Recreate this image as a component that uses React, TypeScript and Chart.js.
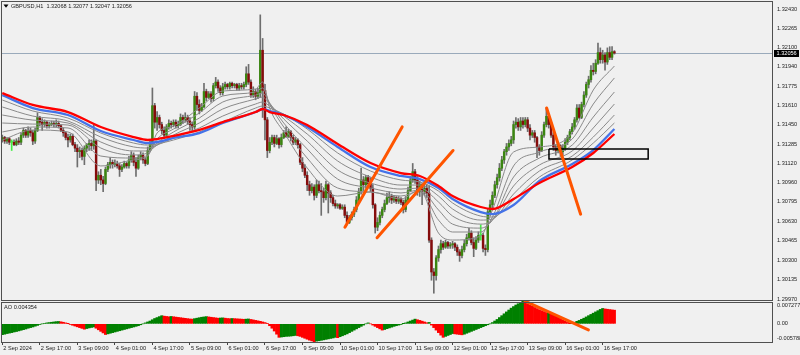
import React, { useEffect, useRef } from "react";
import { Chart, registerables } from "chart.js";

Chart.register(...registerables);

// ---------------- data ----------------
const symbolName = "GBPUSD,H1";
const lastBarOHLC = [1.32068, 1.32077, 1.32047, 1.32056];
const aoTitle = "AO 0.004354";

const timeTickIdx = [0, 16, 32, 48, 64, 80, 96, 112, 128, 144, 160, 176, 192, 208, 224, 240, 256];
const timeLabels = [
  "2 Sep 2024", "2 Sep 17:00", "3 Sep 09:00", "4 Sep 01:00", "4 Sep 17:00", "5 Sep 09:00",
  "6 Sep 01:00", "6 Sep 17:00", "9 Sep 09:00", "10 Sep 01:00", "10 Sep 17:00", "11 Sep 09:00",
  "12 Sep 01:00", "12 Sep 17:00", "13 Sep 09:00", "16 Sep 01:00", "16 Sep 17:00",
];

const priceTicks = [
  1.2997, 1.30135, 1.303, 1.30465, 1.3063, 1.30795, 1.3096, 1.3112,
  1.31285, 1.3145, 1.3161, 1.31775, 1.3194, 1.321, 1.32265, 1.3243,
];
const priceMin = 1.29954;
const priceMax = 1.32489;

const aoMin = -0.005788;
const aoMax = 0.007277;
const aoTickLabels = ["-0.005788", "0.00", "0.007277"];

const firstOpen = 1.3132;

const closes = [
  1.3134, 1.3131, 1.3133, 1.313, 1.313, 1.3128, 1.3131, 1.313, 1.3136, 1.314,
  1.3136, 1.314, 1.3138, 1.3131, 1.314, 1.3151, 1.3147, 1.3145, 1.3147, 1.3144,
  1.3145, 1.3146, 1.3145, 1.3146, 1.3144, 1.314, 1.3138, 1.3134, 1.3132, 1.3135,
  1.3128, 1.3125, 1.3122, 1.3123, 1.3118, 1.3125, 1.3128, 1.3129, 1.3127, 1.3131,
  1.3098, 1.3102, 1.3098, 1.3095, 1.3107, 1.3111, 1.3113, 1.3111, 1.3112, 1.311,
  1.3107, 1.3109, 1.3112, 1.311, 1.3115, 1.3119, 1.3113, 1.3108, 1.3117, 1.3119,
  1.3115, 1.3112, 1.3123, 1.3128, 1.3161, 1.3147, 1.3151, 1.3145, 1.314, 1.3136,
  1.3143, 1.3146, 1.3145, 1.3147, 1.3144, 1.3145, 1.3151, 1.3149, 1.3151, 1.3148,
  1.3145, 1.3143, 1.3169, 1.3162, 1.3157, 1.316, 1.3173, 1.3168, 1.3171, 1.3167,
  1.3178, 1.3181, 1.3176, 1.3172, 1.3177, 1.3179, 1.3177, 1.318, 1.3178, 1.3179,
  1.3176, 1.3178, 1.3177, 1.3179, 1.3188, 1.3181, 1.317, 1.3173, 1.3169, 1.3172,
  1.3208, 1.3174, 1.3149, 1.3123, 1.313, 1.3134, 1.3129, 1.3133, 1.3128, 1.3134,
  1.3138, 1.3135, 1.3139, 1.3134, 1.313, 1.3132, 1.3128, 1.3113, 1.3108, 1.3102,
  1.3094, 1.3089, 1.3092, 1.3085, 1.3094, 1.3089, 1.3088, 1.3083, 1.3094, 1.3087,
  1.3083, 1.3078, 1.3076, 1.3077, 1.3074, 1.3075, 1.3068, 1.3062, 1.3066, 1.3069,
  1.3073, 1.3081, 1.3088, 1.3098, 1.3094, 1.31, 1.3095, 1.3091, 1.3077, 1.3058,
  1.3062, 1.3068, 1.3073, 1.3078, 1.3083, 1.3084, 1.3081, 1.3083, 1.308, 1.3082,
  1.3079, 1.3073, 1.3081, 1.3089, 1.3098, 1.3105, 1.3098, 1.3088, 1.3094, 1.3088,
  1.3091, 1.3087, 1.3047, 1.302, 1.3017, 1.3032, 1.3039, 1.3044, 1.3041, 1.3045,
  1.3042, 1.3043, 1.3044, 1.3041, 1.3037, 1.3034, 1.3039, 1.3044, 1.3049, 1.3053,
  1.3045, 1.304, 1.3047, 1.3051, 1.3051, 1.304, 1.3039, 1.3071, 1.3077, 1.3085,
  1.3094, 1.31, 1.3108, 1.3115, 1.3122, 1.3126, 1.3129, 1.3132, 1.3145, 1.3147,
  1.3143, 1.3148, 1.3145, 1.3149, 1.3142, 1.3136, 1.3138, 1.3134, 1.3126, 1.3123,
  1.3136, 1.3145, 1.3152, 1.3145, 1.3136, 1.3126, 1.3123, 1.3127, 1.3122, 1.3125,
  1.313, 1.3134, 1.3139, 1.3143, 1.3149, 1.3159, 1.3151, 1.3162, 1.317, 1.3179,
  1.3183, 1.3191, 1.319, 1.3197, 1.3206, 1.32, 1.3204, 1.3198, 1.3206, 1.3202,
  1.32068, 1.32056,
];

const highs = [
  1.3136, 1.3135, 1.3134, 1.3134, 1.3132, 1.3132, 1.3133, 1.3134, 1.3138, 1.3142,
  1.3141, 1.3143, 1.3142, 1.314, 1.3142, 1.3155, 1.3152, 1.315, 1.3149, 1.3148,
  1.3147, 1.3148, 1.3148, 1.3149, 1.3148, 1.3145, 1.3142, 1.3139, 1.3137, 1.3137,
  1.3137, 1.313, 1.3128, 1.3126, 1.3125, 1.3127, 1.3129, 1.3132, 1.3132, 1.3145,
  1.3132, 1.3105, 1.3107, 1.3101, 1.3109, 1.3113, 1.3117, 1.3115, 1.3115, 1.3114,
  1.3112, 1.3111, 1.3114, 1.3113, 1.3118, 1.3122, 1.3121, 1.3117, 1.3119, 1.3122,
  1.3121, 1.3117, 1.3126, 1.3132, 1.3176, 1.3163, 1.3156, 1.3153, 1.3147, 1.3143,
  1.3145, 1.3149, 1.3148, 1.3149, 1.3149, 1.3148, 1.3154, 1.3153, 1.3155, 1.3153,
  1.3151, 1.3147, 1.3173, 1.3172, 1.3166, 1.3163, 1.318, 1.3175, 1.3173, 1.3173,
  1.318, 1.3185, 1.3183, 1.3178, 1.318, 1.3181, 1.318, 1.3181, 1.3181, 1.318,
  1.318, 1.318, 1.318, 1.3181, 1.3194, 1.3196, 1.3183, 1.3177, 1.3175, 1.3176,
  1.3238, 1.3218, 1.3179, 1.3151, 1.3134, 1.3136, 1.3136, 1.3136, 1.3134, 1.3137,
  1.314, 1.3143, 1.3141, 1.314, 1.3136, 1.3134, 1.3133, 1.3129, 1.3117, 1.3111,
  1.3105, 1.3097, 1.3095, 1.3094, 1.3098, 1.3097, 1.3095, 1.3091, 1.3097, 1.3095,
  1.3089, 1.3085, 1.3081, 1.3078, 1.3078, 1.3077, 1.3077, 1.3071, 1.3068, 1.3071,
  1.3075, 1.3084, 1.3091, 1.3108, 1.3101, 1.3102, 1.3102, 1.31, 1.3094, 1.3078,
  1.3066, 1.3071, 1.3075, 1.3081, 1.3087, 1.3088, 1.3086, 1.3085, 1.3084, 1.3084,
  1.3083, 1.3081, 1.3084, 1.3092, 1.3101, 1.3112, 1.3107, 1.3101, 1.3097, 1.3095,
  1.3095, 1.3094, 1.3093, 1.3049, 1.3023, 1.3034, 1.3042, 1.3047, 1.3046, 1.3047,
  1.3046, 1.3045, 1.3046, 1.3045, 1.3043, 1.3039, 1.3042, 1.3047, 1.3052, 1.3057,
  1.3055, 1.3049, 1.305, 1.3054, 1.306, 1.3053, 1.3043, 1.3074, 1.3081, 1.3088,
  1.3097, 1.3103, 1.3112, 1.3118, 1.3124, 1.3129, 1.3132, 1.3135, 1.3148, 1.3151,
  1.315, 1.3151, 1.3151, 1.3151, 1.3151, 1.3145, 1.314, 1.314, 1.3135, 1.3128,
  1.3139, 1.3147, 1.3159, 1.3154, 1.3147, 1.3138, 1.3128, 1.3129, 1.3128, 1.3128,
  1.3133, 1.3136, 1.3141, 1.3146, 1.3151, 1.3162, 1.3162, 1.3164, 1.3173, 1.3181,
  1.3186, 1.3195, 1.3197, 1.32, 1.3214, 1.321, 1.3208, 1.3206, 1.321, 1.3211,
  1.3211, 1.32077,
];

const lows = [
  1.313, 1.3129, 1.3129, 1.3128, 1.3123, 1.3127, 1.3127, 1.3128, 1.3128, 1.3134,
  1.3134, 1.3134, 1.3135, 1.3128, 1.3129, 1.3139, 1.3144, 1.314, 1.3143, 1.3142,
  1.3142, 1.3144, 1.3143, 1.3143, 1.3142, 1.3139, 1.3135, 1.3132, 1.3126, 1.313,
  1.3127, 1.3122, 1.3109, 1.3117, 1.3115, 1.3111, 1.3122, 1.3123, 1.3123, 1.3124,
  1.3089, 1.3095, 1.3094, 1.3088, 1.3094, 1.3105, 1.3108, 1.3108, 1.3109, 1.3108,
  1.3101, 1.3105, 1.3108, 1.3108, 1.3108, 1.3113, 1.311, 1.3101, 1.3107, 1.3115,
  1.3112, 1.311, 1.3111, 1.3122, 1.3126, 1.3142, 1.314, 1.3142, 1.3137, 1.3134,
  1.3134, 1.3141, 1.3142, 1.3143, 1.3142, 1.3142, 1.3144, 1.3146, 1.3147, 1.3145,
  1.314, 1.3139, 1.3141, 1.3157, 1.3154, 1.3156, 1.3159, 1.3165, 1.3167, 1.3164,
  1.3165, 1.3176, 1.3173, 1.317, 1.317, 1.3175, 1.3175, 1.3175, 1.3176, 1.3176,
  1.3174, 1.3174, 1.3175, 1.3175, 1.3177, 1.3179, 1.3168, 1.3168, 1.3166, 1.3167,
  1.3168, 1.3151, 1.3132, 1.3117, 1.3121, 1.3128, 1.3126, 1.3128, 1.3125, 1.3126,
  1.3133, 1.3134, 1.3134, 1.3131, 1.3128, 1.3128, 1.3125, 1.3111, 1.3105, 1.31,
  1.3089, 1.3085, 1.3087, 1.3081, 1.3083, 1.3087, 1.3068, 1.3079, 1.3081, 1.307,
  1.3079, 1.3076, 1.3074, 1.3074, 1.3073, 1.3073, 1.3066, 1.306, 1.3061, 1.3064,
  1.3067, 1.3071, 1.3079, 1.3086, 1.3089, 1.3091, 1.3093, 1.3088, 1.3074, 1.3053,
  1.3055, 1.306, 1.3066, 1.3071, 1.3077, 1.3079, 1.3078, 1.3079, 1.3078, 1.3078,
  1.3077, 1.307, 1.3071, 1.3079, 1.3088, 1.3096, 1.3095, 1.3085, 1.3084, 1.3077,
  1.3085, 1.3083, 1.3045, 1.3013, 1.3002, 1.3013, 1.3029, 1.3036, 1.3039, 1.304,
  1.304, 1.304, 1.304, 1.3038, 1.3034, 1.3029, 1.3032, 1.3037, 1.3042, 1.3047,
  1.3043, 1.3033, 1.3039, 1.3045, 1.3047, 1.3037, 1.3034, 1.3037, 1.3068, 1.3074,
  1.3083, 1.3091, 1.3097, 1.3106, 1.3112, 1.3119, 1.3123, 1.3127, 1.3129, 1.3142,
  1.314, 1.314, 1.3142, 1.3143, 1.3139, 1.3132, 1.3134, 1.313, 1.3117, 1.3119,
  1.3122, 1.3134, 1.3143, 1.3142, 1.3134, 1.3123, 1.3119, 1.3121, 1.3118, 1.3119,
  1.3123, 1.3128, 1.3132, 1.3137, 1.3141, 1.3147, 1.315, 1.315, 1.316, 1.3168,
  1.3176, 1.3181, 1.3187, 1.3188, 1.3196, 1.3197, 1.3197, 1.3191, 1.3196, 1.32,
  1.32, 1.32047,
];

const aoValues = [
  -0.00345, -0.0033, -0.0031, -0.00295, -0.0028, -0.0026, -0.00245, -0.00225, -0.00205, -0.00185,
  -0.00165, -0.0014, -0.0012, -0.001, -0.00075, -0.0005, -0.0002, 0, 0.00015, 0.0003,
  0.0004, 0.0005, 0.0006, 0.0007, 0.00075, 0.00065, 0.0005, 0.0003, 0.00005, -0.0002,
  -0.00045, -0.0007, -0.00095, -0.0012, -0.00145, -0.0017, -0.0015, -0.0013, -0.00115, -0.001,
  -0.0014, -0.0019, -0.0024, -0.0029, -0.0034, -0.0032, -0.003, -0.0028, -0.0026, -0.0024,
  -0.0022, -0.002, -0.0018, -0.0016, -0.0014, -0.0012, -0.001, -0.0008, -0.0006, -0.0003,
  0, 0.0003, 0.0006, 0.0009, 0.0013, 0.0017, 0.002, 0.0023, 0.0026, 0.00245,
  0.00235, 0.00225, 0.00235, 0.00225, 0.00215, 0.00205, 0.00195, 0.00185, 0.00175, 0.00165,
  0.00155, 0.0015, 0.00165, 0.0018, 0.00195, 0.0021, 0.0022, 0.0023, 0.0022, 0.0021,
  0.002, 0.0019, 0.0018, 0.00185, 0.0019, 0.0018, 0.0017, 0.00165, 0.0017, 0.00165,
  0.0016, 0.00155, 0.0015, 0.00145, 0.0015, 0.00155, 0.0014, 0.00125, 0.0011, 0.00095,
  0.0008, 0.0006, 0.0004, 0.0001, -0.0006, -0.0014, -0.0023, -0.0033, -0.0043, -0.0042,
  -0.0041, -0.004, -0.00395, -0.0039, -0.0038, -0.0037, -0.0038, -0.004, -0.0043, -0.0046,
  -0.0049, -0.0052, -0.00545, -0.005788, -0.0055, -0.0054, -0.00525, -0.0051, -0.00495, -0.0048,
  -0.00465, -0.0045, -0.0043, -0.0044, -0.0041, -0.0038, -0.0035, -0.0032, -0.0028, -0.0024,
  -0.002, -0.0016, -0.0012, -0.0008, -0.0004, 0, 0.0003, 0, -0.0004, -0.0008,
  -0.0012, -0.0016, -0.002, -0.0018, -0.00155, -0.0013, -0.00105, -0.0008, -0.0006, -0.0004,
  -0.0002, 0.00005, 0.0003, 0.0006, 0.0009, 0.0012, 0.0015, 0.0013, 0.0011, 0.00085,
  0.0006, 0.00035, 0.00045, -0.0004, -0.0012, -0.002, -0.0028, -0.0036, -0.0043, -0.004,
  -0.0037, -0.0034, -0.0031, -0.0032, -0.0033, -0.0034, -0.0035, -0.0033, -0.003, -0.0027,
  -0.0024, -0.0021, -0.0018, -0.0015, -0.0012, -0.0009, -0.0006, -0.0003, 0, 0.0004,
  0.0009, 0.0014, 0.002, 0.0026, 0.0032, 0.0038, 0.0044, 0.005, 0.0055, 0.006,
  0.0064, 0.0068, 0.007277, 0.0068, 0.0064, 0.006, 0.0056, 0.0052, 0.00485, 0.0045,
  0.0042, 0.0039, 0.0036, 0.0037, 0.0033, 0.0029, 0.0025, 0.0021, 0.0017, 0.0013,
  0.0009, 0.00045, 0.00005, 0.0002, 0.0005, 0.0008, 0.0011, 0.00145, 0.0018, 0.0022,
  0.0026, 0.003, 0.0034, 0.0038, 0.0042, 0.0046, 0.0049, 0.00475, 0.00465, 0.00455,
  0.00445, 0.004354,
];

// moving-average lines at these bar positions
const maIdx = [0, 13, 28, 42, 56, 62, 66, 73, 84, 94, 108, 111, 114, 120, 130, 143, 157, 170, 178, 186, 192, 204, 209, 218, 229, 243, 252, 261];
const maRed = [1.31717, 1.31616, 1.31556, 1.31429, 1.31344, 1.31319, 1.31327, 1.31353, 1.31404, 1.31471, 1.31556, 1.31582, 1.31556, 1.31531, 1.31446, 1.31285, 1.31124, 1.31039, 1.31014, 1.30929, 1.30844, 1.30751, 1.30734, 1.30819, 1.30954, 1.3109, 1.31209, 1.3137];
const maBlue = [1.317, 1.3159, 1.31531, 1.31395, 1.31319, 1.31293, 1.31302, 1.31336, 1.31378, 1.31463, 1.31556, 1.31582, 1.31565, 1.31531, 1.31429, 1.3126, 1.3109, 1.31014, 1.30988, 1.30912, 1.30819, 1.30708, 1.30691, 1.30768, 1.30971, 1.31115, 1.31234, 1.31412];
const maGray1 = [1.31658, 1.31565, 1.31505, 1.31378, 1.31293, 1.31276, 1.31285, 1.31319, 1.31387, 1.31471, 1.3159, 1.31607, 1.3159, 1.31539, 1.31412, 1.31209, 1.31056, 1.3098, 1.30963, 1.30886, 1.30785, 1.30674, 1.30666, 1.3081, 1.31005, 1.3115, 1.31293, 1.31463];
const maGray2 = [1.31599, 1.31522, 1.3148, 1.31344, 1.3126, 1.31251, 1.31276, 1.31336, 1.31421, 1.31522, 1.31624, 1.31641, 1.31607, 1.31522, 1.3137, 1.31141, 1.31005, 1.30937, 1.30937, 1.30844, 1.30734, 1.3064, 1.30649, 1.30861, 1.31056, 1.31183, 1.31344, 1.31531];
const maGray3 = [1.31531, 1.31488, 1.31463, 1.31302, 1.31226, 1.31226, 1.31276, 1.31361, 1.31463, 1.31582, 1.31667, 1.31683, 1.31624, 1.31497, 1.3131, 1.31065, 1.30954, 1.30903, 1.30912, 1.30793, 1.30674, 1.30606, 1.3064, 1.30929, 1.31107, 1.31226, 1.31421, 1.31624];
const maGray4 = [1.31463, 1.31454, 1.31446, 1.31251, 1.31192, 1.31209, 1.31293, 1.31387, 1.31505, 1.31641, 1.317, 1.31717, 1.31633, 1.31463, 1.31243, 1.30988, 1.30912, 1.3087, 1.30895, 1.30726, 1.30606, 1.30572, 1.3064, 1.31005, 1.31166, 1.31276, 1.31514, 1.31726];
const maGray5 = [1.31387, 1.31429, 1.31421, 1.31183, 1.31166, 1.31192, 1.31327, 1.31412, 1.31548, 1.31692, 1.31726, 1.3176, 1.31624, 1.31429, 1.31166, 1.30912, 1.30878, 1.30844, 1.30886, 1.3064, 1.30539, 1.30539, 1.30666, 1.31099, 1.31217, 1.31327, 1.31624, 1.31845];
const maGray6 = [1.31319, 1.31404, 1.31387, 1.31099, 1.3115, 1.31183, 1.31378, 1.31437, 1.3159, 1.31734, 1.31751, 1.31811, 1.3159, 1.31387, 1.31082, 1.30844, 1.30878, 1.30819, 1.30895, 1.3053, 1.30471, 1.30505, 1.30726, 1.31217, 1.3126, 1.31378, 1.31743, 1.31946];

// hand-drawn annotations (bar position, price)
const trendIdx = [[146.1, 170.5], [159.8, 192.2], [232.1, 246.6]];
const trendPrice = [[1.3058, 1.3143], [1.3049, 1.3123], [1.3159, 1.3069]];
const aoTrendIdx = [222.9, 249.9];
const aoTrendVal = [0.00722, -0.00196];
const boxIdx = [233.1, 275.4];
const boxPrice = [1.31243, 1.31158];

// ---------------- style ----------------
const BG = "#F0F0F0";
const BORDER = "#505050";
const TEXT = "#1c1c1c";
const UP = "#3A8610";
const DOWN = "#850C0C";
const DOJI = "#44EE44";
const WICK = "#6E6E6E";
const GRAY_MA = "#8A8A8A";
const RED_MA = "#FF0000";
const BLUE_MA = "#4472E8";
const ORANGE = "#FF5500";
const AO_UP = "#008000";
const AO_DOWN = "#FF0000";
const PRICE_LINE = "#9AAABB";
const FONT_FAMILY = "'Liberation Sans', Arial, sans-serif";
const FONT_SIZE = 5.6;
const CANVAS_FONT = `${FONT_SIZE}px ${FONT_FAMILY}`;

const xMin = -0.13;
const xMax = 328.2;

const chromePlugin = {
  id: "mtChrome",
  beforeDraw(chart: any) {
    const { ctx, width, height } = chart;
    ctx.save();
    ctx.fillStyle = BG;
    ctx.fillRect(0, 0, width, height);
    ctx.restore();
  },
  beforeDatasetsDraw(chart: any) {
    const { ctx, chartArea } = chart;
    const ys = chart.scales.y;
    const py = Math.round(ys.getPixelForValue(lastBarOHLC[3])) + 0.5;
    ctx.save();
    ctx.strokeStyle = PRICE_LINE;
    ctx.lineWidth = 1;
    ctx.beginPath();
    ctx.moveTo(chartArea.left, py);
    ctx.lineTo(chartArea.right, py);
    ctx.stroke();
    ctx.restore();
  },
  afterDraw(chart: any) {
    const { ctx, chartArea } = chart;
    const ys = chart.scales.y;
    const ya = chart.scales.yAO;
    ctx.save();
    ctx.strokeStyle = BORDER;
    ctx.lineWidth = 1;
    const l = chartArea.left - 0.5;
    const r = chartArea.right + 0.5;
    ctx.strokeRect(l, ys.top - 0.5, r - l, ys.bottom - ys.top);
    ctx.strokeRect(l, ya.top + 1.5, r - l, ya.bottom - ya.top - 1);

    // current price tag
    const py = Math.round(ys.getPixelForValue(lastBarOHLC[3]));
    ctx.fillStyle = "#000000";
    ctx.fillRect(chartArea.right + 2, py - 3, 25, 7);
    ctx.fillStyle = "#FFFFFF";
    ctx.font = CANVAS_FONT;
    ctx.textBaseline = "middle";
    ctx.textAlign = "left";
    ctx.fillText(lastBarOHLC[3].toFixed(5), chartArea.right + 4.5, py + 0.7);

    // title
    ctx.fillStyle = "#000000";
    ctx.beginPath();
    ctx.moveTo(3.5, 4.5);
    ctx.lineTo(8.5, 4.5);
    ctx.lineTo(6, 7.8);
    ctx.closePath();
    ctx.fill();
    ctx.fillStyle = TEXT;
    ctx.fillText(`${symbolName}  ${lastBarOHLC.map((v) => v.toFixed(5)).join(" ")}`, 11, 6.5);
    ctx.fillText(aoTitle, 4, ya.top + 6);
    ctx.restore();
  },
};

const zeroPad = (s: any) => {
  s.paddingTop = 0;
  s.paddingBottom = 0;
  s.paddingLeft = 0;
  s.paddingRight = 0;
};

function buildConfig(): any {
  const idx = closes.map((_, i) => i);
  const opens = idx.map((i) => (i === 0 ? firstOpen : closes[i - 1]));
  const wickData = idx.map((i) => ({ x: i, y: [lows[i], highs[i]] }));
  const bodyData = idx.map((i) => ({ x: i, y: [opens[i], closes[i]] }));
  const bodyColors = idx.map((i) => (closes[i] > opens[i] ? UP : closes[i] < opens[i] ? DOWN : DOJI));
  const wickColors = idx.map((i) => (closes[i] === opens[i] ? DOJI : WICK));
  const aoData = idx.map((i) => ({ x: i, y: aoValues[i] }));
  const aoColors = idx.map((i) => (i === 0 || aoValues[i] >= aoValues[i - 1] ? AO_UP : AO_DOWN));

  const maLine = (vals: number[], color: string, width: number, order: number) => ({
    type: "line",
    data: maIdx.map((x, k) => ({ x, y: vals[k] })),
    borderColor: color,
    borderWidth: width,
    pointRadius: 0,
    fill: false,
    cubicInterpolationMode: "monotone",
    yAxisID: "y",
    order,
    clip: 0,
  });

  const trendSets = trendIdx.map((xs, k) => ({
    type: "line",
    data: xs.map((x, j) => ({ x, y: trendPrice[k][j] })),
    borderColor: ORANGE,
    borderWidth: 3,
    borderCapStyle: "round",
    pointRadius: 0,
    fill: false,
    yAxisID: "y",
    order: 0,
  }));

  const tickFont = { family: FONT_FAMILY, size: FONT_SIZE };

  return {
    type: "bar",
    data: {
      datasets: [
        ...trendSets,
        {
          type: "line",
          data: [
            { x: boxIdx[0], y: boxPrice[0] },
            { x: boxIdx[1], y: boxPrice[0] },
            { x: boxIdx[1], y: boxPrice[1] },
            { x: boxIdx[0], y: boxPrice[1] },
            { x: boxIdx[0], y: boxPrice[0] },
          ],
          borderColor: "#000000",
          borderWidth: 1.5,
          pointRadius: 0,
          fill: false,
          yAxisID: "y",
          order: 0,
        },
        {
          type: "line",
          data: aoTrendIdx.map((x, j) => ({ x, y: aoTrendVal[j] })),
          borderColor: ORANGE,
          borderWidth: 3,
          borderCapStyle: "round",
          pointRadius: 0,
          fill: false,
          yAxisID: "yAO",
          order: 0,
        },
        maLine(maRed, RED_MA, 2.3, 1),
        maLine(maBlue, BLUE_MA, 2.3, 2),
        maLine(maGray1, GRAY_MA, 1, 3),
        maLine(maGray2, GRAY_MA, 1, 3),
        maLine(maGray3, GRAY_MA, 1, 3),
        maLine(maGray4, GRAY_MA, 1, 3),
        maLine(maGray5, GRAY_MA, 1, 3),
        maLine(maGray6, GRAY_MA, 1, 3),
        {
          type: "bar",
          data: bodyData,
          backgroundColor: bodyColors,
          barThickness: 1.8,
          minBarLength: 1,
          grouped: false,
          borderWidth: 0,
          yAxisID: "y",
          order: 4,
        },
        {
          type: "bar",
          data: wickData,
          backgroundColor: wickColors,
          barThickness: 1,
          grouped: false,
          borderWidth: 0,
          yAxisID: "y",
          order: 5,
        },
        {
          type: "bar",
          data: aoData,
          backgroundColor: aoColors,
          barPercentage: 1,
          categoryPercentage: 1,
          grouped: false,
          borderWidth: 0,
          yAxisID: "yAO",
          order: 6,
        },
      ],
    },
    options: {
      responsive: false,
      maintainAspectRatio: false,
      devicePixelRatio: 1,
      animation: false,
      events: [],
      layout: { padding: { top: 2, left: 2, right: 0, bottom: 0 } },
      plugins: {
        legend: { display: false },
        tooltip: { enabled: false },
        title: { display: false },
      },
      scales: {
        x: {
          type: "linear",
          min: xMin,
          max: xMax,
          offset: false,
          afterBuildTicks: (s: any) => {
            s.ticks = timeTickIdx.map((v) => ({ value: v }));
          },
          afterFit: (s: any) => {
            s.height = 13;
            zeroPad(s);
          },
          ticks: {
            autoSkip: false,
            maxRotation: 0,
            minRotation: 0,
            align: "start",
            padding: 0,
            labelOffset: 1,
            color: TEXT,
            font: tickFont,
            callback: (v: number) => {
              const k = timeTickIdx.indexOf(v);
              return k >= 0 ? timeLabels[k] : "";
            },
          },
          grid: { display: true, drawOnChartArea: false, drawTicks: true, tickLength: 3, color: "#444444", offset: false },
          border: { display: false },
        },
        y: {
          type: "linear",
          position: "right",
          stack: "panes",
          stackWeight: 299,
          min: priceMin,
          max: priceMax,
          afterBuildTicks: (s: any) => {
            s.ticks = priceTicks.map((v) => ({ value: v }));
          },
          afterFit: (s: any) => {
            s.width = 28;
            zeroPad(s);
          },
          ticks: {
            padding: 2,
            color: TEXT,
            font: tickFont,
            callback: (v: number) => Number(v).toFixed(5),
          },
          grid: { display: true, drawOnChartArea: false, drawTicks: true, tickLength: 3, color: "rgba(0,0,0,0)" },
          border: { display: false },
        },
        yAO: {
          type: "linear",
          position: "right",
          stack: "panes",
          stackWeight: 41,
          min: aoMin,
          max: aoMax,
          afterBuildTicks: (s: any) => {
            const span = aoMax - aoMin;
            s.ticks = [{ value: aoMin + span * 0.085 }, { value: 0 }, { value: aoMax - span * 0.115 }];
          },
          afterFit: (s: any) => {
            s.width = 28;
            zeroPad(s);
          },
          ticks: {
            padding: 2,
            color: TEXT,
            font: tickFont,
            callback: (_v: number, i: number) => aoTickLabels[i] ?? "",
          },
          grid: { display: true, drawOnChartArea: false, drawTicks: true, tickLength: 3, color: "rgba(0,0,0,0)" },
          border: { display: false },
        },
      },
    },
    plugins: [chromePlugin],
  };
}

export default function App() {
  const ref = useRef<HTMLCanvasElement | null>(null);
  useEffect(() => {
    document.body.style.margin = "0";
    document.body.style.background = BG;
    if (!ref.current) return;
    const chart = new Chart(ref.current, buildConfig());
    return () => chart.destroy();
  }, []);
  return (
    <div style={{ width: 800, height: 355, background: BG, position: "relative", overflow: "hidden" }}>
      <canvas ref={ref} width={800} height={355} style={{ display: "block", width: 800, height: 355 }} />
    </div>
  );
}
